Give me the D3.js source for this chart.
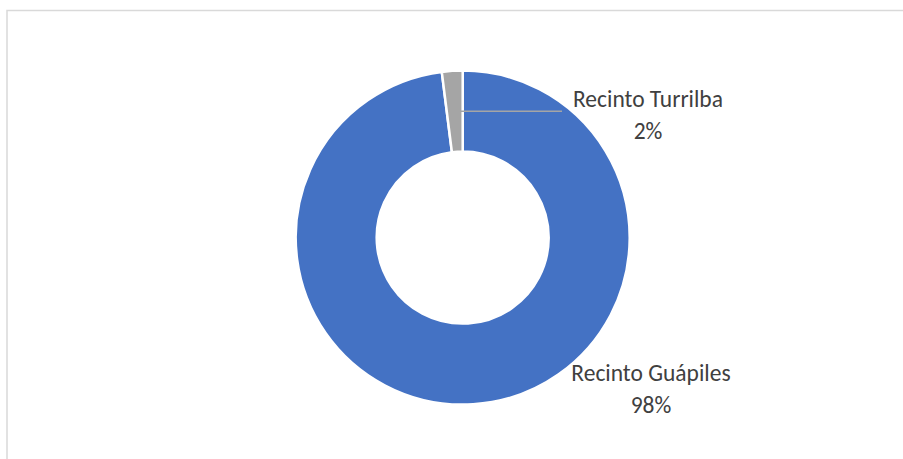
<!DOCTYPE html>
<html>
<head>
<meta charset="utf-8">
<script src="https://cdn.jsdelivr.net/npm/d3@7"></script>
<style>
  html, body { margin: 0; padding: 0; background: #fff; }
  svg { display: block; }
  .lbl { font-family: Carlito, Calibri, Lato, sans-serif; font-size: 23.5px; fill: #404040; }
</style>
</head>
<body>
<svg id="chart" width="903" height="459"></svg>
<script>
// datos del gráfico
const categories = ["Recinto Guápiles", "Recinto Turrilba"];
const values = [98, 2];
const percentLabels = ["98%", "2%"];
const colors = ["#4472c4", "#a5a5a5"];

const svg = d3.select("#chart");
const W = 903, H = 459;

// marco del área del gráfico
svg.append("path")
    .attr("d", `M7,${H + 2} L7,10.5 L${W + 2},10.5`)
    .attr("fill", "none")
    .attr("stroke", "#d9d9d9")
    .attr("stroke-width", 1.5);

const cx = 462.7, cy = 237.6;
const outerR = 167, innerR = 86;

const pie = d3.pie().sort(null).value(d => d)(values);
const arc = d3.arc().innerRadius(innerR).outerRadius(outerR);

const g = svg.append("g").attr("transform", `translate(${cx},${cy})`);

g.selectAll("path.slice")
    .data(pie)
    .enter()
    .append("path")
    .attr("class", "slice")
    .attr("d", arc)
    .attr("fill", (d, i) => colors[i])
    .attr("stroke", "#fff")
    .attr("stroke-width", 2.5);

// línea guía para la porción pequeña
const c = arc.centroid(pie[1]);
g.append("line")
    .attr("x1", c[0]).attr("y1", c[1])
    .attr("x2", 562 - cx).attr("y2", c[1])
    .attr("stroke", "#a5a5a5")
    .attr("stroke-width", 1.5);

// etiquetas (posición relativa al centro)
const labelPos = [[651 - cx, 381 - cy], [648 - cx, 107 - cy]];
const lineGap = 32;

pie.forEach((d, i) => {
    const t = g.append("text")
        .attr("class", "lbl")
        .attr("text-anchor", "middle")
        .attr("x", labelPos[i][0])
        .attr("y", labelPos[i][1]);
    t.append("tspan").attr("x", labelPos[i][0]).text(categories[i]);
    t.append("tspan").attr("x", labelPos[i][0]).attr("dy", lineGap).text(percentLabels[i]);
});
</script>
</body>
</html>
